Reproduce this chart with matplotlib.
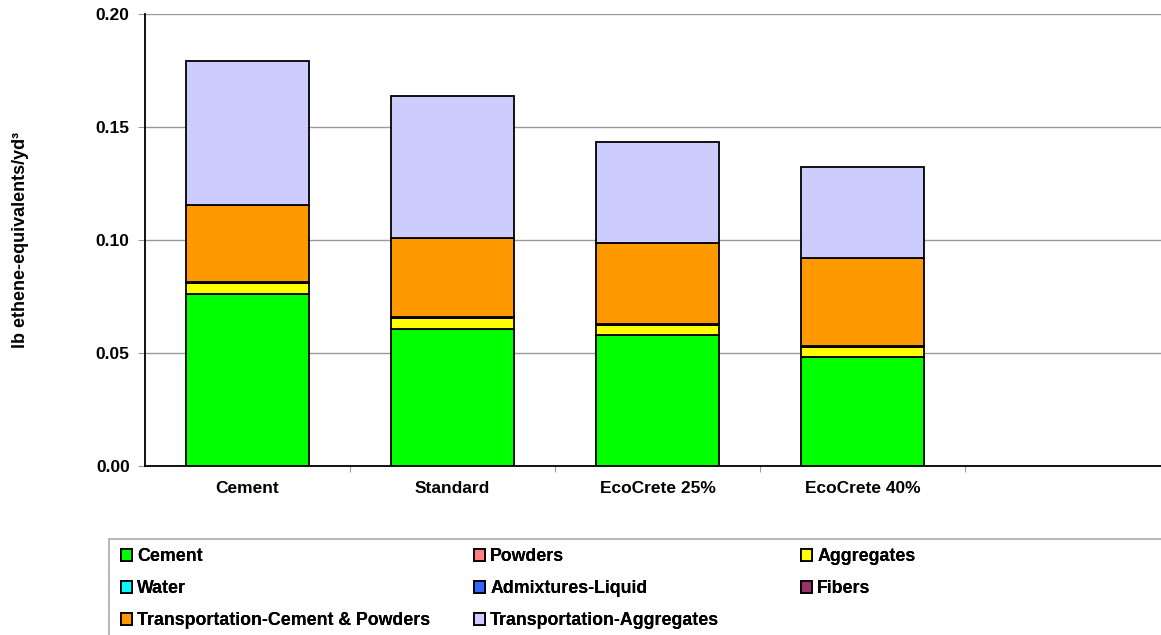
import matplotlib
matplotlib.use('Agg')
import matplotlib.pyplot as plt
from matplotlib.patches import Rectangle
import numpy as np

plt.rcParams['font.family'] = ['Liberation Sans', 'DejaVu Sans']
plt.rcParams['font.weight'] = 'bold'

# mixes (last slot of the category axis is empty in the original)
mixes = ['Cement', 'Standard', 'EcoCrete 25%', 'EcoCrete 40%', '']

# lb ethene-equivalents per yd3
cement = [0.0761, 0.0606, 0.0580, 0.0482, 0]
powders = [0.0, 0.0001, 0.0001, 0.0001, 0]
aggregates = [0.0047, 0.0047, 0.0042, 0.0043, 0]
water = [0.0002, 0.0002, 0.0002, 0.0002, 0]
admixtures = [0.0002, 0.0003, 0.0003, 0.0003, 0]
fibers = [0.0, 0.0, 0.0, 0.0, 0]
trans_cement = [0.0343, 0.0350, 0.0359, 0.0388, 0]
trans_aggr = [0.0635, 0.0627, 0.0447, 0.0406, 0]

series = [
    ('Cement', cement, '#00FF00'),
    ('Powders', powders, '#FF8080'),
    ('Aggregates', aggregates, '#FFFF00'),
    ('Water', water, '#00FFFF'),
    ('Admixtures-Liquid', admixtures, '#3366FF'),
    ('Fibers', fibers, '#993366'),
    ('Transportation-Cement & Powders', trans_cement, '#FF9900'),
    ('Transportation-Aggregates', trans_aggr, '#CCCCFF'),
]

fig = plt.figure(figsize=(11.61, 6.35), dpi=100)
ax = fig.add_axes([145 / 1161, 1 - 466 / 635, 1025 / 1161, 452 / 635])

x = np.arange(len(mixes))
bottom = np.zeros(len(mixes))
handles = {}
for name, vals, col in series:
    vals = np.array(vals)
    bars = ax.bar(x[:4], vals[:4], 0.6, bottom=bottom[:4], color=col,
                  edgecolor='black', linewidth=1.3, label=name, zorder=3)
    handles[name] = bars
    bottom += vals

ax.set_xlim(-0.5, len(mixes) - 0.5)
ax.set_ylim(0, 0.20)
ax.set_yticks(np.arange(0, 0.201, 0.05))
ax.set_yticklabels(['%.2f' % v for v in np.arange(0, 0.201, 0.05)], fontsize=12.5)
ax.yaxis.grid(True, color='#999999', linewidth=1, zorder=0)
ax.tick_params(axis='y', length=5, color='#999999', pad=6)

ax.set_xticks(np.arange(0.5, len(mixes) - 0.5, 1))
ax.set_xticklabels([])
ax.set_xticks(x, minor=True)
ax.set_xticklabels(mixes, minor=True, fontsize=12.5)
ax.tick_params(axis='x', which='major', length=4, color='#999999', direction='out')
ax.tick_params(axis='x', which='minor', length=0, pad=11)

for s in ['top', 'right']:
    ax.spines[s].set_visible(False)
ax.spines['left'].set_linewidth(1.3)
ax.spines['bottom'].set_linewidth(1.3)

ax.set_ylabel('lb ethene-equivalents/yd³', fontsize=13, fontweight='bold')
ax.yaxis.set_label_coords((29 - 145) / 1025, 0.5)

# legend: three single-column legends placed like the original's row layout
columns = [
    (['Cement', 'Water', 'Transportation-Cement & Powders'], 107),
    (['Powders', 'Admixtures-Liquid', 'Transportation-Aggregates'], 460),
    (['Aggregates', 'Fibers'], 787),
]
for names, xpix in columns:
    leg = fig.legend([handles[n] for n in names], names, ncol=1,
                     loc='upper left', bbox_to_anchor=(xpix / 1161, 1 - 534 / 635),
                     frameon=False, fontsize=12.75, handlelength=0.6, handleheight=0.6,
                     handletextpad=0.3, labelspacing=0.85, borderpad=0.3)
    fig.add_artist(leg)
fig.patches.append(Rectangle((109 / 1161, -0.02), 1.1, (635 - 539) / 635 + 0.02,
                             transform=fig.transFigure, fill=False,
                             edgecolor='#AAAAAA', linewidth=1.2))

fig.savefig('out.png', dpi=100)
